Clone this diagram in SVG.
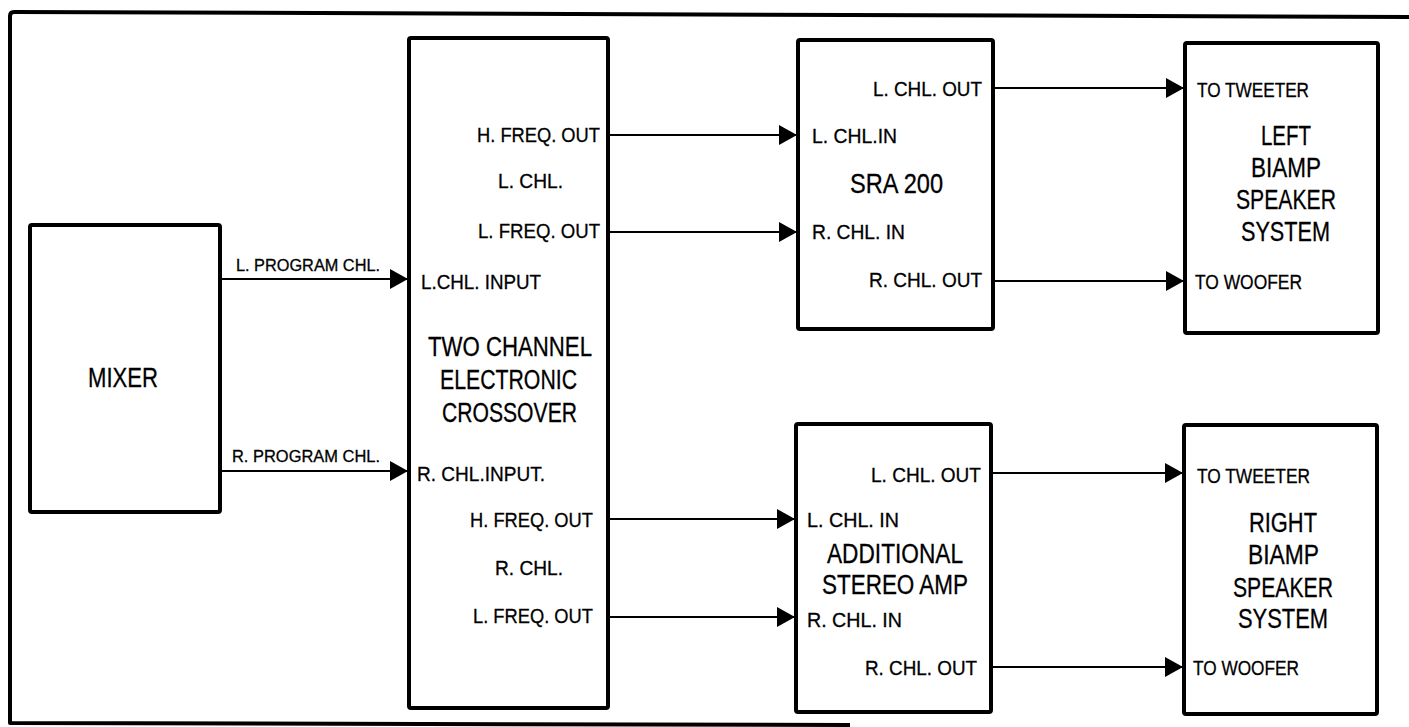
<svg xmlns="http://www.w3.org/2000/svg" width="1409" height="727" viewBox="0 0 1409 727">
<style>
.box{fill:none;stroke:#000;stroke-width:4;stroke-linejoin:round}
.frame{fill:none;stroke:#000;stroke-width:4;stroke-linejoin:round}
.conn{stroke:#000;stroke-width:2;fill:none}
text{font-family:"Liberation Sans",Arial,sans-serif;fill:#000;stroke:#000;stroke-width:0.3}
.lbl{font-size:21px}
.sm{font-size:17px}
.ttl{font-size:27px}
</style>
<defs>
<marker id="arr" markerUnits="userSpaceOnUse" markerWidth="20" markerHeight="22" refX="18" refY="10" orient="auto">
<path d="M0,0 L18,10 L0,20 Z" fill="#000"/>
</marker>
</defs>
<rect width="1409" height="727" fill="#fff"/>
<path class="frame" d="M1409,17 L14,12 Q10,12 10,16 L10,723 L850,725"/>

<g id="mixer">
<rect class="box" x="30" y="225" width="190" height="287" rx="2"/>
<text class="ttl" x="88" y="387" textLength="70" lengthAdjust="spacingAndGlyphs">MIXER</text>
</g>

<g id="crossover">
<rect class="box" x="409" y="38" width="199" height="670" rx="2"/>
<text class="lbl" x="477" y="142" textLength="123" lengthAdjust="spacingAndGlyphs">H. FREQ. OUT</text>
<text class="lbl" x="498" y="188" textLength="65" lengthAdjust="spacingAndGlyphs">L. CHL.</text>
<text class="lbl" x="478" y="238" textLength="122" lengthAdjust="spacingAndGlyphs">L. FREQ. OUT</text>
<text class="lbl" x="421" y="289" textLength="120" lengthAdjust="spacingAndGlyphs">L.CHL. INPUT</text>
<text class="ttl" x="428" y="356" textLength="164" lengthAdjust="spacingAndGlyphs">TWO CHANNEL</text>
<text class="ttl" x="440" y="389" textLength="137" lengthAdjust="spacingAndGlyphs">ELECTRONIC</text>
<text class="ttl" x="442" y="422" textLength="135" lengthAdjust="spacingAndGlyphs">CROSSOVER</text>
<text class="lbl" x="417" y="481" textLength="128" lengthAdjust="spacingAndGlyphs">R. CHL.INPUT.</text>
<text class="lbl" x="470" y="527" textLength="123" lengthAdjust="spacingAndGlyphs">H. FREQ. OUT</text>
<text class="lbl" x="495" y="575" textLength="68" lengthAdjust="spacingAndGlyphs">R. CHL.</text>
<text class="lbl" x="473" y="623" textLength="120" lengthAdjust="spacingAndGlyphs">L. FREQ. OUT</text>
</g>

<g id="sra200">
<rect class="box" x="798" y="40" width="195" height="289" rx="2"/>
<text class="lbl" x="873" y="96" textLength="109" lengthAdjust="spacingAndGlyphs">L. CHL. OUT</text>
<text class="lbl" x="812" y="143" textLength="85" lengthAdjust="spacingAndGlyphs">L. CHL.IN</text>
<text class="ttl" x="850" y="193" textLength="93" lengthAdjust="spacingAndGlyphs">SRA 200</text>
<text class="lbl" x="812" y="239" textLength="93" lengthAdjust="spacingAndGlyphs">R. CHL. IN</text>
<text class="lbl" x="869" y="287" textLength="113" lengthAdjust="spacingAndGlyphs">R. CHL. OUT</text>
</g>

<g id="left-speaker">
<rect class="box" x="1185" y="43" width="193" height="290" rx="2"/>
<text class="lbl" x="1197" y="97" textLength="112" lengthAdjust="spacingAndGlyphs">TO TWEETER</text>
<text class="ttl" x="1261" y="145" textLength="50" lengthAdjust="spacingAndGlyphs">LEFT</text>
<text class="ttl" x="1251" y="177" textLength="70" lengthAdjust="spacingAndGlyphs">BIAMP</text>
<text class="ttl" x="1236" y="209" textLength="100" lengthAdjust="spacingAndGlyphs">SPEAKER</text>
<text class="ttl" x="1241" y="241" textLength="89" lengthAdjust="spacingAndGlyphs">SYSTEM</text>
<text class="lbl" x="1195" y="289" textLength="107" lengthAdjust="spacingAndGlyphs">TO WOOFER</text>
</g>

<g id="additional-amp">
<rect class="box" x="796" y="424" width="195" height="288" rx="2"/>
<text class="lbl" x="871" y="482" textLength="110" lengthAdjust="spacingAndGlyphs">L. CHL. OUT</text>
<text class="lbl" x="807" y="527" textLength="92" lengthAdjust="spacingAndGlyphs">L. CHL. IN</text>
<text class="ttl" x="827" y="563" textLength="136" lengthAdjust="spacingAndGlyphs">ADDITIONAL</text>
<text class="ttl" x="822" y="594" textLength="146" lengthAdjust="spacingAndGlyphs">STEREO AMP</text>
<text class="lbl" x="807" y="627" textLength="95" lengthAdjust="spacingAndGlyphs">R. CHL. IN</text>
<text class="lbl" x="865" y="675" textLength="112" lengthAdjust="spacingAndGlyphs">R. CHL. OUT</text>
</g>

<g id="right-speaker">
<rect class="box" x="1184" y="425" width="193" height="289" rx="2"/>
<text class="lbl" x="1197" y="483" textLength="113" lengthAdjust="spacingAndGlyphs">TO TWEETER</text>
<text class="ttl" x="1249" y="532" textLength="68" lengthAdjust="spacingAndGlyphs">RIGHT</text>
<text class="ttl" x="1248" y="564" textLength="71" lengthAdjust="spacingAndGlyphs">BIAMP</text>
<text class="ttl" x="1233" y="597" textLength="100" lengthAdjust="spacingAndGlyphs">SPEAKER</text>
<text class="ttl" x="1238" y="628" textLength="90" lengthAdjust="spacingAndGlyphs">SYSTEM</text>
<text class="lbl" x="1193" y="675" textLength="106" lengthAdjust="spacingAndGlyphs">TO WOOFER</text>
</g>

<g id="connectors">
<line class="conn" x1="222" y1="279" x2="408" y2="279" marker-end="url(#arr)"/>
<text class="sm" x="236" y="271" textLength="144" lengthAdjust="spacingAndGlyphs">L. PROGRAM CHL.</text>
<line class="conn" x1="222" y1="471" x2="408" y2="471" marker-end="url(#arr)"/>
<text class="sm" x="232" y="462" textLength="148" lengthAdjust="spacingAndGlyphs">R. PROGRAM CHL.</text>
<line class="conn" x1="610" y1="135" x2="797" y2="135" marker-end="url(#arr)"/>
<line class="conn" x1="610" y1="232" x2="797" y2="232" marker-end="url(#arr)"/>
<line class="conn" x1="995" y1="88" x2="1184" y2="88" marker-end="url(#arr)"/>
<line class="conn" x1="995" y1="281" x2="1184" y2="281" marker-end="url(#arr)"/>
<line class="conn" x1="610" y1="519" x2="795" y2="519" marker-end="url(#arr)"/>
<line class="conn" x1="610" y1="617" x2="795" y2="617" marker-end="url(#arr)"/>
<line class="conn" x1="993" y1="473" x2="1183" y2="473" marker-end="url(#arr)"/>
<line class="conn" x1="993" y1="667" x2="1183" y2="667" marker-end="url(#arr)"/>
</g>
</svg>
